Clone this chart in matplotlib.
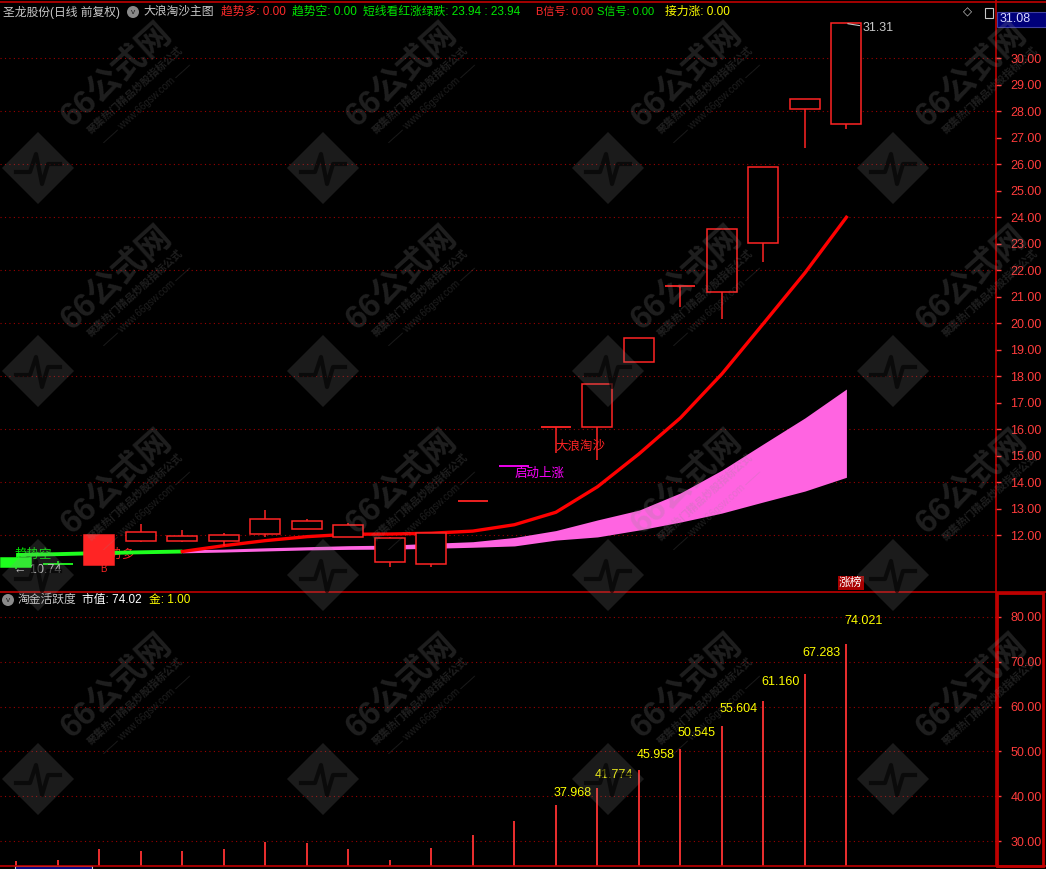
import matplotlib
matplotlib.use('Agg')
import matplotlib.pyplot as plt
from matplotlib.patches import Rectangle, Polygon
from matplotlib.lines import Line2D
from matplotlib.ticker import FormatStrFormatter

plt.rcParams['font.family'] = ['Liberation Sans', 'Noto Sans CJK SC', 'DejaVu Sans']

# daily candles (price, yuan)
days = list(range(21))
opens = [11.13, 10.92, 10.88, 11.78, 11.80, 11.80, 12.04, 12.23, 11.95, 10.98, 10.91,
         13.29, 14.62, 16.08, 16.08, 18.53, 21.40, 21.17, 23.02, 28.08, 27.51]
closes = [10.80, 10.92, 12.01, 12.12, 11.97, 12.01, 12.62, 12.54, 12.39, 11.89, 12.08,
          13.29, 14.62, 16.08, 17.70, 19.43, 21.40, 23.55, 25.89, 28.45, 31.32]
highs = [11.13, 11.02, 12.01, 12.42, 12.20, 12.07, 12.95, 12.61, 12.47, 11.93, 12.08,
         13.29, 14.62, 16.08, 17.70, 19.43, 21.40, 23.55, 25.89, 28.45, 31.31]
lows = [10.74, 10.92, 10.87, 11.76, 11.76, 11.61, 11.92, 12.23, 11.95, 10.81, 10.81,
        13.29, 14.62, 15.10, 14.84, 18.53, 20.63, 20.15, 22.32, 26.63, 27.32]

# trend line (green part = 趋势空, red part = 趋势多)
trend = [11.26, 11.29, 11.33, 11.36, 11.39, 11.61, 11.80, 11.95, 12.04, 12.05, 12.08,
         12.16, 12.40, 12.87, 13.83, 15.07, 16.43, 18.09, 19.99, 21.90, 24.00]
# pink band from day 4 on
band_hi = [11.45, 11.48, 11.53, 11.57, 11.61, 11.63, 11.70, 11.76, 11.92, 12.18, 12.58,
           12.95, 13.60, 14.46, 15.45, 16.43, 17.52]
band_lo = [11.34, 11.37, 11.41, 11.45, 11.47, 11.48, 11.51, 11.55, 11.60, 11.82, 11.94,
           12.20, 12.50, 12.84, 13.26, 13.67, 14.19]

# 淘金活跃度 (market value)
activity = [25.54, 25.76, 28.21, 27.77, 27.77, 28.21, 29.78, 29.55, 28.21, 25.76, 28.44,
            31.38, 34.516, 37.968, 41.774, 45.958, 50.545, 55.604, 61.160, 67.283, 74.021]

RED = '#ff2424'
GREEN = '#1eff1e'
TXT_GREEN = '#00e600'
PINK = '#ff64e1'
MAGENTA = '#ff00ff'
YELLOW = '#ffff00'
GRAY = '#c8c8c8'
GRID = '#9a0000'
AXRED = '#ff3c3c'

W, H = 1046, 869


def fx(px):
    return px / W


def fy(py):
    return 1 - py / H


fig = plt.figure(figsize=(W / 100, H / 100), dpi=100, facecolor='black')
ax1 = fig.add_axes([0, fy(591), fx(995), (591 - 6) / H])
ax2 = fig.add_axes([0, fy(866), fx(995), (866 - 592) / H])

for ax in (ax1, ax2):
    ax.set_facecolor('black')
    for s in ax.spines.values():
        s.set_visible(False)
    ax.set_xlim(-0.393, 23.58)
    ax.tick_params(axis='x', bottom=False, labelbottom=False)
    ax.yaxis.tick_right()
    ax.tick_params(axis='y', colors=AXRED, length=4.5, width=1, labelsize=9, pad=6.5)
    ax.yaxis.set_major_formatter(FormatStrFormatter('%.2f'))

ax1.set_ylim(9.90, 31.97)
ax1.set_yticks(range(12, 31))
ax2.set_ylim(24.42, 85.58)
ax2.set_yticks(range(30, 81, 10))

for v in range(12, 31, 2):
    ax1.axhline(v, color=GRID, ls=(0, (1, 3)), lw=0.8, zorder=0)
for v in range(30, 81, 10):
    ax2.axhline(v, color=GRID, ls=(0, (1, 3)), lw=0.8, zorder=0)

# band and trend line
ax1.fill_between(days[4:], band_lo, band_hi, color=PINK, lw=0, zorder=2)
ax1.plot(days[:5], trend[:5], color=GREEN, lw=2.8, zorder=2.5, solid_capstyle='butt')
ax1.plot(days[4:], trend[4:], color='#ff0000', lw=2.4, zorder=2.5)

# candles
w = 0.72
special = {0: (GREEN, GREEN), 1: (GREEN, GREEN), 2: (RED, RED), 12: (MAGENTA, MAGENTA)}
for i in days:
    o, c, h, l = opens[i], closes[i], highs[i], lows[i]
    ec, fc = special.get(i, (RED, 'black'))
    lo, hi = min(o, c), max(o, c)
    if hi - lo < 0.01:
        ax1.hlines(o, i - w / 2, i + w / 2, color=ec, lw=1.3, zorder=4)
    else:
        ax1.add_patch(Rectangle((i - w / 2, lo), w, hi - lo, fc=fc, ec=ec, lw=1.1, zorder=4))
    if h > hi:
        ax1.vlines(i, hi, h, color=ec, lw=1.1, zorder=3.5)
    if l < lo:
        ax1.vlines(i, l, lo, color=ec, lw=1.1, zorder=3.5)

# signal texts
ax1.text(-0.03, trend[0] + 0.02, '趋势空', color=TXT_GREEN, fontsize=9, ha='left', va='center', zorder=2)
ax1.text(1.95, trend[2] - 0.05, '趋势多', color=RED, fontsize=9, ha='left', va='center', zorder=1)
ax1.annotate('B', xy=(2, lows[2]), xytext=(4, -4), textcoords='offset pixels', color=RED,
             fontsize=7, ha='center', va='center', zorder=3)
ax1.annotate('← 10.74', xy=(0, lows[0]), xytext=(-2, -1), textcoords='offset pixels',
             color=GRAY, fontsize=9, ha='left', va='center', zorder=5)
ax1.annotate('大浪淘沙', xy=(13, closes[13]), xytext=(0, -20), textcoords='offset pixels',
             color=RED, fontsize=9, ha='left', va='center', zorder=5)
ax1.annotate('启动上涨', xy=(12, closes[12]), xytext=(0, -8), textcoords='offset pixels',
             color=MAGENTA, fontsize=9, ha='left', va='center', zorder=5)
ax1.annotate('31.31', xy=(20, highs[20]), xytext=(16, -5), textcoords='offset pixels',
             color=GRAY, fontsize=9, ha='left', va='center', zorder=5,
             arrowprops=dict(arrowstyle='-', color=GRAY, lw=0.8, shrinkA=0, shrinkB=1))

# lower panel bars
base = ax2.get_ylim()[0]
ax2.vlines(days, base, activity, color='#ff3232', lw=1.3, zorder=3)
for i in days[13:]:
    ax2.text(i - 0.06, activity[i] * 1.07, f'{activity[i]:.3f}', color=YELLOW,
             fontsize=9, ha='left', va='center', zorder=4)


def ftext(px, py, s, color, size=8.5, **kw):
    fig.text(fx(px), fy(py), s, color=color, fontsize=size, ha=kw.pop('ha', 'left'),
             va=kw.pop('va', 'center'), **kw)


# header of main chart
ftext(3, 12, '圣龙股份(日线 前复权)', GRAY)
ftext(133, 12, 'v', '#202020', size=6, ha='center',
      bbox=dict(boxstyle='circle,pad=0.3', fc='#8a8a8a', ec='none'))
ftext(143, 12, '大浪淘沙主图', GRAY)
ftext(221, 12, '趋势多: 0.00', '#ff2a2a')
ftext(292, 12, '趋势空: 0.00', TXT_GREEN)
ftext(363, 12, '短线看红涨绿跌: 23.94 : 23.94', TXT_GREEN)
ftext(536, 12, 'B信号: 0.00', '#ff2a2a', size=8)
ftext(597, 12, 'S信号: 0.00', TXT_GREEN, size=8)
ftext(665, 12, '接力涨: 0.00', YELLOW)
ftext(967, 12, '◇', GRAY, ha='center', family='DejaVu Sans')
fig.add_artist(Rectangle((fx(985), fy(18)), fx(8), 10 / H, transform=fig.transFigure,
                         fc='none', ec=GRAY, lw=0.8))

# header of sub chart
ftext(8, 600, 'v', '#202020', size=6, ha='center',
      bbox=dict(boxstyle='circle,pad=0.3', fc='#8a8a8a', ec='none'))
ftext(18, 600, '淘金活跃度', GRAY)
ftext(82, 600, '市值: 74.02', 'white')
ftext(149, 600, '金: 1.00', YELLOW)

# current price box
fig.add_artist(Rectangle((fx(997), fy(27)), fx(49), 15 / H, transform=fig.transFigure,
                         fc='#00007a', ec='#4040a0', lw=0.8))
ftext(1000, 19.5, '31.08', '#d8d8ff', size=9)

# 涨榜 tag
ftext(839, 583, '涨榜', 'white', size=8.5,
      bbox=dict(boxstyle='square,pad=0.1', fc='#a80000', ec='none'))

# frame lines
for (x0, y0, x1, y1, lw) in [(0, 1.5, W, 1.5, 1.2), (995.5, 0, 995.5, 866, 1.2),
                             (0, 591.5, W, 591.5, 1.2), (0, 866, W, 866, 1.2)]:
    fig.add_artist(Line2D([fx(x0), fx(x1)], [fy(y0), fy(y1)], transform=fig.transFigure,
                          color='#c00000', lw=lw))
fig.add_artist(Rectangle((fx(996.5), fy(866)), fx(46), (866 - 593) / H,
                         transform=fig.transFigure, fc='none', ec='#c00000', lw=2))
fig.add_artist(Rectangle((fx(15), fy(869)), fx(77), 3 / H, transform=fig.transFigure,
                         fc='#00007a', ec='#c8c8c8', lw=0.8))

# watermark
for cx in [117, 402, 687, 972]:
    for cy in [75, 278, 482, 686]:
        ftext(cx, cy, '66公式网', '#8c8c8c', size=24, ha='center', rotation=42,
              fontweight='bold', alpha=0.22, zorder=10)
        ftext(cx + 18, cy + 15, '聚集热门精品炒股指标公式', '#8c8c8c', size=7.5, ha='center',
              rotation=42, fontweight='bold', alpha=0.22, zorder=10)
        if cx < 900:
            ftext(cx + 30, cy + 28, '—— www.66gsw.com ——', '#8c8c8c', size=7, ha='center',
                  rotation=42, alpha=0.22, zorder=10)
        ix, iy = cx - 79, cy + 93
        d = 36
        fig.add_artist(Polygon([(fx(ix), fy(iy - d)), (fx(ix + d), fy(iy)),
                                (fx(ix), fy(iy + d)), (fx(ix - d), fy(iy))],
                               closed=True, transform=fig.transFigure,
                               fc='#8c8c8c', ec='none', alpha=0.2, zorder=10))
        pulse = [(-22, 4), (-8, 4), (-2, -14), (4, 16), (10, -4), (22, -4)]
        fig.add_artist(Line2D([fx(ix + px) for px, py in pulse], [fy(iy + py) for px, py in pulse],
                              transform=fig.transFigure, color='black', lw=3, alpha=0.6, zorder=11))

fig.savefig('out.png', dpi=100, facecolor='black')
